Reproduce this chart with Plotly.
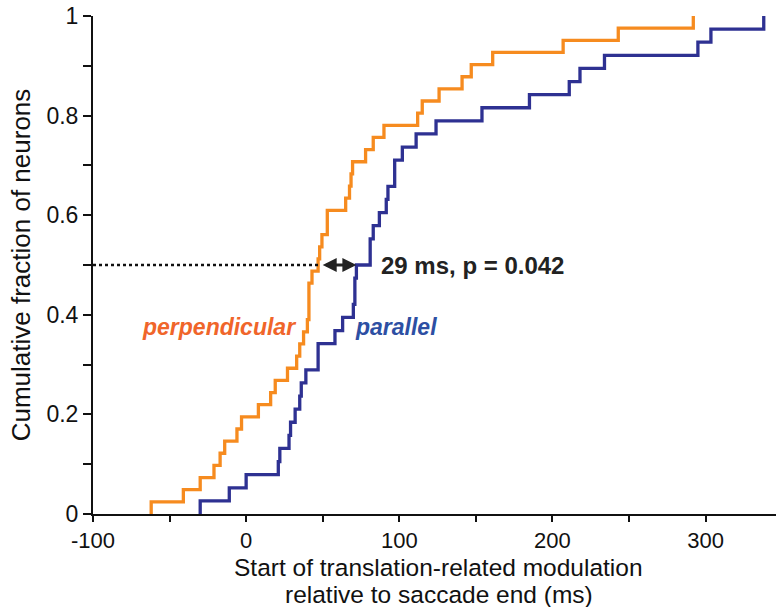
import plotly.graph_objects as go

# Onset latencies (ms) of translation-related modulation, one per neuron
perpendicular = [-62, -41, -30, -21, -17, -14, -6, -3, 8, 16, 19, 27, 33, 35, 37.5,
                 40, 41, 41, 41, 43, 47, 48, 49.5, 53, 53, 65, 67.5, 68.5, 69.5, 78,
                 83, 90, 112, 115, 126, 141, 147, 161, 207, 243, 292]
parallel = [-30, -11, 0, 21, 22, 28, 29, 32, 35, 36, 39, 47, 47, 58, 63, 70, 71, 71,
            72, 81, 81, 83, 87, 91.5, 92.6, 97, 97, 102, 111, 124, 154, 185, 211, 218,
            234, 295, 303.5, 338]

median_perp = 48
median_par = 72
diff_label = "29 ms, p = 0.042"

x_ticks = [-100, 0, 100, 200, 300]
y_ticks = [0, 0.2, 0.4, 0.6, 0.8, 1]
y_ticklabels = ["0", "0.2", "0.4", "0.6", "0.8", "1"]
x_title_lines = ["Start of translation-related modulation", "relative to saccade end (ms)"]
y_title = "Cumulative fraction of neurons"

ORANGE = "#F68B1F"
BLUE = "#2E3192"
SANS = "Liberation Sans, Arial, sans-serif"
INK = "#111111"


def ecdf(vals):
    v = sorted(vals)
    n = len(v)
    xs = [v[0]] + v
    ys = [0] + [(i + 1) / n for i in range(n)]
    return xs, ys


fig = go.Figure()
for vals, col, name in [(perpendicular, ORANGE, "perpendicular"), (parallel, BLUE, "parallel")]:
    xs, ys = ecdf(vals)
    fig.add_trace(go.Scatter(x=xs, y=ys, mode="lines", line=dict(color=col, width=3.3, shape="hv"),
                             name=name, cliponaxis=False, showlegend=False, hoverinfo="skip"))

# dotted median line
fig.add_trace(go.Scatter(x=[-100, median_perp], y=[0.5, 0.5], mode="lines",
                         line=dict(color=INK, width=2.5, dash="dot"),
                         showlegend=False, hoverinfo="skip"))

fig.add_annotation(x=median_par, y=0.5, ax=median_perp + 1, ay=0.5, xref="x", yref="y",
                   axref="x", ayref="y", showarrow=True, arrowhead=2, arrowside="end+start",
                   arrowsize=1, arrowwidth=2.8, arrowcolor="#222222", text="")
fig.add_annotation(x=87, y=0.5, xref="x", yref="y", text="<b>" + diff_label + "</b>",
                   showarrow=False, xanchor="left", yanchor="middle",
                   font=dict(family=SANS, size=24, color="#222222"))
fig.add_annotation(x=34, y=0.375, xref="x", yref="y", text="<b><i>perpendicular</i></b>",
                   showarrow=False, xanchor="right", yanchor="middle",
                   font=dict(family=SANS, size=23, color="#F0652A"))
fig.add_annotation(x=70, y=0.375, xref="x", yref="y", text="<b><i>parallel</i></b>",
                   showarrow=False, xanchor="left", yanchor="middle",
                   font=dict(family=SANS, size=23, color="#2D4FA3"))

# x-axis title as two tightly spaced lines
for line_text, ypix in zip(x_title_lines, [567, 594]):
    fig.add_annotation(x=0.506, y=(514 - ypix) / 498, xref="paper", yref="paper",
                       text=line_text, showarrow=False, xanchor="center", yanchor="middle",
                       height=26, borderpad=0,
                       font=dict(family=SANS, size=24.5, color=INK))

fig.update_layout(
    width=776, height=610,
    margin=dict(l=93, r=0, t=16, b=96),
    paper_bgcolor="white", plot_bgcolor="white",
    font=dict(family=SANS, size=24, color=INK),
)
fig.update_xaxes(range=[-100, 346], tickvals=x_ticks, ticktext=[str(t) for t in x_ticks],
                 showgrid=False, zeroline=False, showline=True, linecolor=INK, linewidth=2,
                 ticks="outside", ticklen=6, tickwidth=2, tickcolor=INK,
                 minor=dict(dtick=50, tick0=-100, ticks="outside", ticklen=6, tickwidth=2,
                            tickcolor=INK, showgrid=False),
                 tickfont=dict(family=SANS, size=22))
fig.update_yaxes(range=[0, 1], tickvals=y_ticks, ticktext=y_ticklabels,
                 showgrid=False, zeroline=False, showline=True, linecolor=INK, linewidth=2,
                 ticks="outside", ticklen=8, tickwidth=2, tickcolor=INK,
                 minor=dict(dtick=0.1, tick0=0, ticks="outside", ticklen=8, tickwidth=2,
                            tickcolor=INK, showgrid=False),
                 tickfont=dict(family=SANS, size=23),
                 title=dict(text=y_title, font=dict(family=SANS, size=26), standoff=8))

fig.write_html("out.html")
